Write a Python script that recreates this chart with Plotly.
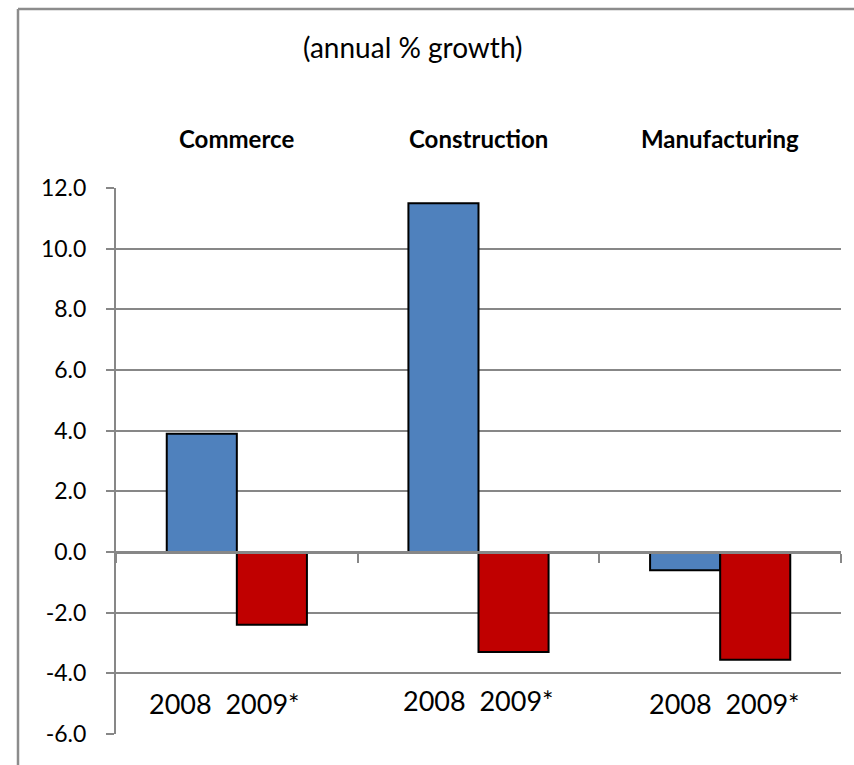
import plotly.graph_objects as go

# Sector growth rates (annual % change)
sectors = ["Commerce", "Construction", "Manufacturing"]
growth_2008 = [3.9, 11.5, -0.6]
growth_2009 = [-2.4, -3.3, -3.55]
year_labels = ["2008", "2009*"]
y_ticks = [-6, -4, -2, 0, 2, 4, 6, 8, 10, 12]
title_text = "(annual % growth)"

W, H = 854, 765
L, R, T, B = 116, 13, 188, 31
pw, ph = W - L - R, H - T - B

FONT = "Lato, Liberation Sans, sans-serif"
GRID = "#878787"

fig = go.Figure()
fig.add_trace(go.Bar(x=sectors, y=growth_2008, name=year_labels[0],
                     marker=dict(color="#4f81bd", line=dict(color="black", width=2))))
fig.add_trace(go.Bar(x=sectors, y=growth_2009, name=year_labels[1],
                     marker=dict(color="#c00000", line=dict(color="black", width=2))))

ymin, ymax = min(y_ticks), max(y_ticks)
zero_pos = (0 - ymin) / (ymax - ymin)

fig.update_layout(
    width=W, height=H,
    margin=dict(l=L, r=R, t=T, b=B),
    paper_bgcolor="white", plot_bgcolor="white",
    barmode="group", bargap=0.42, bargroupgap=0,
    showlegend=False,
    font=dict(family=FONT, color="black"),
    xaxis=dict(
        anchor="free", position=zero_pos,
        showline=True, linecolor=GRID, linewidth=3,
        ticks="outside", tickson="boundaries", ticklen=9, tickwidth=1.5,
        tickcolor=GRID, showticklabels=False, showgrid=False, zeroline=False,
    ),
    yaxis=dict(
        range=[ymin, ymax],
        tickvals=y_ticks,
        ticktext=[f"{v:.1f}" for v in y_ticks],
        tickfont=dict(size=23, family=FONT, color="black"),
        showgrid=True, gridcolor=GRID, gridwidth=2,
        showline=True, linecolor=GRID, linewidth=2,
        ticks="outside", ticklen=8, tickcolor=GRID, tickwidth=2,
        ticklabelstandoff=15,
        zeroline=False,
    ),
)

# Chart title
fig.add_annotation(text=title_text, xref="paper", yref="paper",
                   x=(413 - L) / pw, y=1, yshift=141, showarrow=False,
                   yanchor="middle",
                   font=dict(size=28, family=FONT, color="black"))

# Sector names above the plot area
for s in sectors:
    fig.add_annotation(text=f"<b>{s}</b>", x=s, xref="x", yref="paper", y=1,
                       yshift=50, yanchor="middle", showarrow=False,
                       font=dict(size=24, family=FONT, color="black"))

# Year labels beneath each group
shifts = [-12, 0, 4]
ylev = [-5.0, -4.9, -5.0]
for s, dx, yv in zip(sectors, shifts, ylev):
    fig.add_annotation(text=f"{year_labels[0]}  {year_labels[1]}", x=s, y=yv,
                       xref="x", yref="y", xshift=dx, showarrow=False,
                       font=dict(size=27, family=FONT, color="black"))

# Frame along the top and left of the figure
fx = (18 - L) / pw
fy = 1 + (T - 9) / ph
fbot = -B / ph - 0.01
fig.add_shape(type="line", xref="paper", yref="paper", x0=fx, x1=1 + R / pw + 0.01,
              y0=fy, y1=fy, line=dict(color="#8c8c8c", width=2.5))
fig.add_shape(type="line", xref="paper", yref="paper", x0=fx, x1=fx,
              y0=fbot, y1=fy, line=dict(color="#8c8c8c", width=2.5))

fig.write_html("out.html")
